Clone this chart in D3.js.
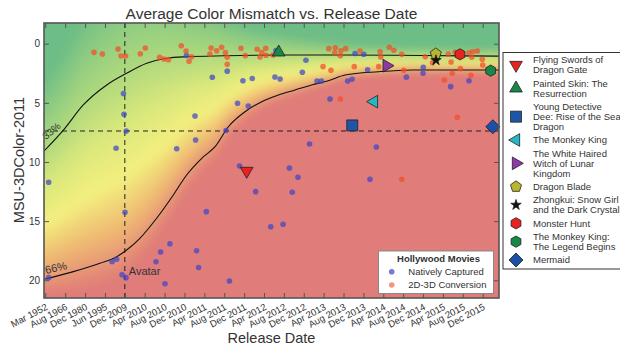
<!DOCTYPE html>
<html>
<head>
<meta charset="utf-8">
<script src="https://cdn.jsdelivr.net/npm/d3@7"></script>
<style>
  body { margin: 0; background: #fff; }
  text { font-family: "Liberation Sans", Arial, Helvetica, sans-serif; fill: #333; }
</style>
</head>
<body>
<svg id="chart" width="620" height="347"></svg>
<script>
// ---- data (x = position along the release-date axis, in tick steps; y = MSU-3DColor-2011) ----
const xTickLabels = ["Mar 1952", "Aug 1966", "Dec 1980", "Jun 1995", "Dec 2009", "Apr 2010", "Aug 2010",
  "Dec 2010", "Apr 2011", "Aug 2011", "Dec 2011", "Apr 2012", "Aug 2012", "Dec 2012", "Apr 2013",
  "Aug 2013", "Dec 2013", "Apr 2014", "Aug 2014", "Dec 2014", "Apr 2015", "Aug 2015", "Dec 2015"];
const yTicks = [0, 5, 10, 15, 20];

const nativeCaptured = [
  [0.17, 11.72], [0.17, 19.78], [3.56, 8.84], [3.93, 4.21], [3.96, 5.97], [4.07, 7.38], [4.01, 14.25],
  [3.36, 18.43], [3.59, 18.23], [3.86, 19.53], [4.06, 19.78], [5.57, 18.43], [5.80, 17.61], [6.27, 16.91],
  [6.02, 20.29], [6.61, 8.88], [7.10, 1.00], [7.53, 6.11], [7.56, 8.14], [7.61, 17.50], [7.71, 18.93],
  [8.10, 14.20], [8.40, 2.84], [9.15, 2.32], [9.09, 7.34], [9.26, 20.06], [9.67, 5.04], [9.77, 10.34],
  [9.94, 3.13], [10.21, 5.27], [10.41, 2.94], [10.58, 12.51], [11.34, 15.47], [11.55, 2.81], [11.60, 0.57],
  [11.81, 2.98], [11.96, 15.27], [12.28, 10.51], [12.42, 12.56], [12.71, 11.29], [12.93, 2.42], [13.11, 1.40],
  [13.29, 8.48], [13.67, 3.15], [13.89, 3.15], [14.32, 4.67], [15.21, 3.15], [15.43, 3.01], [15.58, 0.83],
  [16.02, 0.89], [16.21, 2.20], [16.33, 11.46], [16.65, 8.73], [18.16, 2.83], [19.01, 1.99], [19.00, 2.50],
  [20.39, 3.63], [21.31, 3.13]
];

const conversion2D3D = [
  [2.45, 0.73], [2.87, 0.87], [3.66, 0.45], [3.81, 1.04], [4.04, 1.04], [4.78, 0.85], [5.03, 0.36],
  [5.75, 1.15], [5.97, 1.29], [6.19, 1.35], [6.84, 0.17], [7.08, 0.62], [7.36, 1.10], [7.23, 1.49],
  [8.34, 0.36], [8.28, 0.87], [8.62, 0.59], [8.87, 0.30], [9.06, 0.74], [9.15, 1.15], [9.15, 1.74],
  [9.84, 0.39], [10.06, 1.01], [10.65, 0.47], [10.89, 0.73], [11.09, 0.39], [10.80, 1.12], [11.10, 0.98],
  [11.45, 0.96], [14.26, 0.42], [14.59, 0.34], [14.87, 0.59], [15.11, 0.42], [14.56, 0.76], [14.84, 1.01],
  [13.97, 1.94], [14.37, 2.25], [14.84, 4.67], [15.83, 0.62], [16.84, 0.68], [17.30, 0.30], [17.53, 0.56],
  [17.93, 0.90], [16.87, 1.12], [15.54, 1.94], [16.77, 1.94], [18.03, 2.25], [19.11, 1.10], [19.47, 1.61],
  [20.27, 0.87], [20.41, 1.55], [20.61, 0.73], [20.88, 2.11], [20.47, 2.50], [20.07, 3.07], [21.41, 2.67],
  [21.30, 0.76], [21.50, 0.68], [21.73, 0.62], [21.45, 1.15], [21.98, 1.32], [22.00, 1.80], [20.72, 6.22],
  [17.93, 11.46]
];

// fitted curves (33% and 66%)
const upperFit = [[-0.10, 9.13], [0.91, 7.30], [1.91, 5.18], [3.09, 3.49], [4.09, 2.50], [5.10, 1.66],
  [6.11, 1.23], [7.11, 1.10], [9.0, 1.02], [11.72, 0.96], [15.08, 0.96], [19.0, 1.0], [22.82, 1.05]];
const lowerFit = [[-0.05, 19.92], [1.41, 19.27], [2.75, 18.56], [3.59, 18.01], [4.09, 17.44], [4.76, 16.45],
  [5.60, 14.76], [6.44, 12.79], [7.11, 11.10], [7.87, 9.69], [8.54, 8.71], [9.21, 7.02], [10.05, 5.75],
  [10.89, 4.90], [11.72, 4.34], [12.56, 3.91], [13.40, 3.49], [14.24, 3.13], [15.08, 2.65], [16.75, 2.37],
  [18.43, 2.22], [22.82, 2.22]];

const threshold33 = 7.38;
const avatarIndex = 4;

const movieNames = [
  ["Flying Swords of", "Dragon Gate"],
  ["Painted Skin: The", "Resurrection"],
  ["Young Detective", "Dee: Rise of the Sea", "Dragon"],
  ["The Monkey King"],
  ["The White Haired", "Witch of Lunar", "Kingdom"],
  ["Dragon Blade"],
  ["Zhongkui: Snow Girl", "and the Dark Crystal"],
  ["Monster Hunt"],
  ["The Monkey King:", "The Legend Begins"],
  ["Mermaid"]
];
const movieX = [10.13, 11.74, 15.44, 16.53, 17.17, 19.64, 19.65, 20.86, 22.40, 22.51];
const movieY = [10.76, 0.73, 6.91, 4.90, 1.86, 0.85, 1.40, 0.90, 2.28, 7.02];

// ---- styles ----
const movieColors = ["#e8231f", "#17874a", "#1f55a6", "#22b8c4", "#8b3aa6", "#b7b631", "#111", "#e8231f", "#17874a", "#1b50a8"];
const nativeColor = "#3f46c6", convColor = "#f24d28";
// background colour by relative position between the two fitted curves (0 = 33% curve, 1 = 66% curve)
const bgColor = d3.scaleLinear()
  .domain([-0.55, -0.05, 0.3, 0.58, 0.85, 1.13])
  .range(["#6dbd86", "#a9d77d", "#dbe87c", "#f3ef7e", "#efb872", "#e07c79"])
  .interpolate(d3.interpolateRgb)
  .clamp(true);

function polygonType(n, start) {
  return {
    draw(ctx, size) {
      const r = Math.sqrt(size);
      for (let i = 0; i < n; i++) {
        const a = start + i * 2 * Math.PI / n;
        if (i === 0) ctx.moveTo(r * Math.cos(a), r * Math.sin(a));
        else ctx.lineTo(r * Math.cos(a), r * Math.sin(a));
      }
      ctx.closePath();
    }
  };
}
const pentagon = polygonType(5, -Math.PI / 2);
const hexagon = polygonType(6, -Math.PI / 2);
const movieSymbols = [
  { type: d3.symbolTriangle, size: 70, rot: 180 },
  { type: d3.symbolTriangle, size: 70, rot: 0 },
  { type: d3.symbolSquare, size: 121, rot: 0 },
  { type: d3.symbolTriangle, size: 70, rot: -90 },
  { type: d3.symbolTriangle, size: 70, rot: 90 },
  { type: pentagon, size: 34, rot: 0 },
  { type: d3.symbolStar, size: 34, rot: 0 },
  { type: hexagon, size: 32, rot: 0 },
  { type: hexagon, size: 32, rot: 0 },
  { type: d3.symbolSquare, size: 98, rot: 45 }
];

// ---- layout ----
const m = { left: 44, top: 23, right: 499, bottom: 298 };
const x = d3.scaleLinear().domain([-0.065, 22.82]).range([m.left, m.right]);
const y = d3.scaleLinear().domain([-1.75, 21.5]).range([m.top, m.bottom]);

const svg = d3.select("#chart");
const defs = svg.append("defs");
defs.append("clipPath").attr("id", "plotClip")
  .append("rect")
  .attr("x", m.left).attr("y", m.top)
  .attr("width", m.right - m.left).attr("height", m.bottom - m.top);
defs.append("filter").attr("id", "soft")
  .attr("filterUnits", "userSpaceOnUse")
  .attr("x", 0).attr("y", 0).attr("width", 620).attr("height", 347)
  .append("feGaussianBlur").attr("stdDeviation", 4);

// background field
const upperAt = d3.scaleLinear().domain(upperFit.map(d => d[0])).range(upperFit.map(d => d[1])).clamp(true);
const lowerAt = d3.scaleLinear().domain(lowerFit.map(d => d[0])).range(lowerFit.map(d => d[1])).clamp(true);
const step = 3;
const cells = [];
for (let px = m.left - 12; px < m.right + 12; px += step) {
  const xi = x.invert(px + step / 2);
  const u = upperAt(xi), l = lowerAt(xi);
  for (let py = m.top - 12; py < m.bottom + 12; py += step) {
    const v = y.invert(py + step / 2);
    cells.push({ px, py, t: (v - u) / (l - u) });
  }
}
svg.append("g").attr("clip-path", "url(#plotClip)")
  .append("g").attr("filter", "url(#soft)")
  .selectAll("rect").data(cells).enter().append("rect")
  .attr("x", d => d.px).attr("y", d => d.py)
  .attr("width", step + 0.5).attr("height", step + 0.5)
  .attr("fill", d => bgColor(d.t));

const plot = svg.append("g").attr("clip-path", "url(#plotClip)");

// dashed reference lines
plot.append("line")
  .attr("x1", x(avatarIndex)).attr("x2", x(avatarIndex))
  .attr("y1", m.top).attr("y2", m.bottom)
  .attr("stroke", "#222").attr("stroke-width", 1).attr("stroke-dasharray", "5,4");
plot.append("line")
  .attr("x1", m.left).attr("x2", m.right)
  .attr("y1", y(threshold33)).attr("y2", y(threshold33))
  .attr("stroke", "#222").attr("stroke-width", 1).attr("stroke-dasharray", "5,4");

// fitted curves
const line = d3.line().x(d => x(d[0])).y(d => y(d[1])).curve(d3.curveMonotoneX);
[upperFit, lowerFit].forEach(f => {
  plot.append("path").attr("d", line(f))
    .attr("fill", "none").attr("stroke", "#111").attr("stroke-width", 1.1);
});

// Hollywood dots
plot.selectAll("circle.native").data(nativeCaptured).enter()
  .append("circle").attr("class", "native")
  .attr("cx", d => x(d[0])).attr("cy", d => y(d[1])).attr("r", 2.8)
  .attr("fill", nativeColor).attr("fill-opacity", 0.72);
plot.selectAll("circle.conv").data(conversion2D3D).enter()
  .append("circle").attr("class", "conv")
  .attr("cx", d => x(d[0])).attr("cy", d => y(d[1])).attr("r", 2.8)
  .attr("fill", convColor).attr("fill-opacity", 0.72);

// Chinese movies
const sym = (i) => d3.symbol().type(movieSymbols[i].type).size(movieSymbols[i].size)();
svg.append("g").selectAll("path").data(movieX).enter()
  .append("path")
  .attr("d", (d, i) => sym(i))
  .attr("transform", (d, i) => `translate(${x(d)},${y(movieY[i])}) rotate(${movieSymbols[i].rot})`)
  .attr("fill", (d, i) => movieColors[i])
  .attr("stroke", "#222").attr("stroke-width", 0.8);

// labels inside the plot
svg.append("text").attr("transform", `translate(46,140) rotate(-40)`)
  .attr("font-size", 10).text("33%");
svg.append("text").attr("transform", `translate(46,274) rotate(-13)`)
  .attr("font-size", 11).text("66%");
svg.append("text").attr("x", x(avatarIndex) + 4).attr("y", 275)
  .attr("font-size", 11).text("Avatar");

// ---- axes and frame ----
const axisColor = "#555";
const gx = svg.append("g").attr("transform", `translate(0,${m.bottom})`)
  .call(d3.axisBottom(x).tickValues(d3.range(xTickLabels.length))
    .tickFormat(i => xTickLabels[i]).tickSizeInner(-5).tickSizeOuter(0));
gx.selectAll("text")
  .attr("x", 0).attr("y", 0).attr("dy", "0.35em")
  .attr("text-anchor", "end")
  .attr("transform", "translate(1,8) rotate(-28)")
  .attr("font-size", 9.5);
svg.append("g").attr("transform", `translate(0,${m.top})`)
  .call(d3.axisTop(x).tickValues(d3.range(xTickLabels.length)).tickFormat("").tickSizeInner(-5).tickSizeOuter(0));
const gy = svg.append("g").attr("transform", `translate(${m.left},0)`)
  .call(d3.axisLeft(y).tickValues(yTicks).tickSizeInner(-5).tickSizeOuter(0).tickPadding(4));
gy.selectAll("text").attr("font-size", 10);
svg.append("g").attr("transform", `translate(${m.right},0)`)
  .call(d3.axisRight(y).tickValues(yTicks).tickFormat("").tickSizeInner(-5).tickSizeOuter(0));
svg.selectAll(".domain").remove();
svg.selectAll(".tick line").attr("stroke", axisColor).attr("stroke-width", 1);
svg.selectAll(".tick text").attr("fill", "#333").attr("font-family", null);

svg.append("rect")
  .attr("x", m.left).attr("y", m.top)
  .attr("width", m.right - m.left).attr("height", m.bottom - m.top)
  .attr("fill", "none").attr("stroke", axisColor).attr("stroke-width", 1.6);

// titles
svg.append("text").attr("x", 271.5).attr("y", 19).attr("text-anchor", "middle")
  .attr("font-size", 15.5).attr("fill", "#222").text("Average Color Mismatch vs. Release Date");
svg.append("text").attr("x", 271.5).attr("y", 343).attr("text-anchor", "middle")
  .attr("font-size", 14.5).attr("fill", "#222").text("Release Date");
svg.append("text").attr("transform", "translate(24,160) rotate(-90)").attr("text-anchor", "middle")
  .attr("font-size", 14.5).attr("fill", "#222").text("MSU-3DColor-2011");

// ---- Hollywood legend ----
const hl = svg.append("g");
hl.append("rect").attr("x", 378.5).attr("y", 251).attr("width", 115).attr("height", 42.5)
  .attr("fill", "#fff").attr("stroke", "#888").attr("stroke-width", 1);
hl.append("text").attr("x", 438.5).attr("y", 261.8).attr("text-anchor", "middle")
  .attr("font-size", 9.5).attr("font-weight", "bold").text("Hollywood Movies");
[["Natively Captured", nativeColor, 0.72], ["2D-3D Conversion", convColor, 0.6]].forEach((e, i) => {
  const cy = 271.7 + i * 13.3;
  hl.append("circle").attr("cx", 391.7).attr("cy", cy).attr("r", 2.8)
    .attr("fill", e[1]).attr("fill-opacity", e[2]);
  hl.append("text").attr("x", 408.3).attr("y", cy).attr("dy", "0.35em")
    .attr("font-size", 9.5).text(e[0]);
});

// ---- Chinese movies legend ----
const cl = svg.append("g");
cl.append("rect").attr("x", 503).attr("y", 52.5).attr("width", 130).attr("height", 216.5)
  .attr("fill", "#fff").attr("stroke", "#333").attr("stroke-width", 1);
let rowTop = 55;
movieNames.forEach((lines, i) => {
  const h = lines.length * 10;
  const cy = rowTop + h / 2;
  cl.append("path").attr("d", sym(i))
    .attr("transform", `translate(516,${cy}) rotate(${movieSymbols[i].rot})`)
    .attr("fill", movieColors[i]).attr("stroke", "#222").attr("stroke-width", 0.8);
  lines.forEach((t, j) => {
    cl.append("text").attr("x", 533).attr("y", rowTop + 5 + j * 10).attr("dy", "0.35em")
      .attr("font-size", 9.5).text(t);
  });
  rowTop += h + 3.33;
});
</script>
</body>
</html>
